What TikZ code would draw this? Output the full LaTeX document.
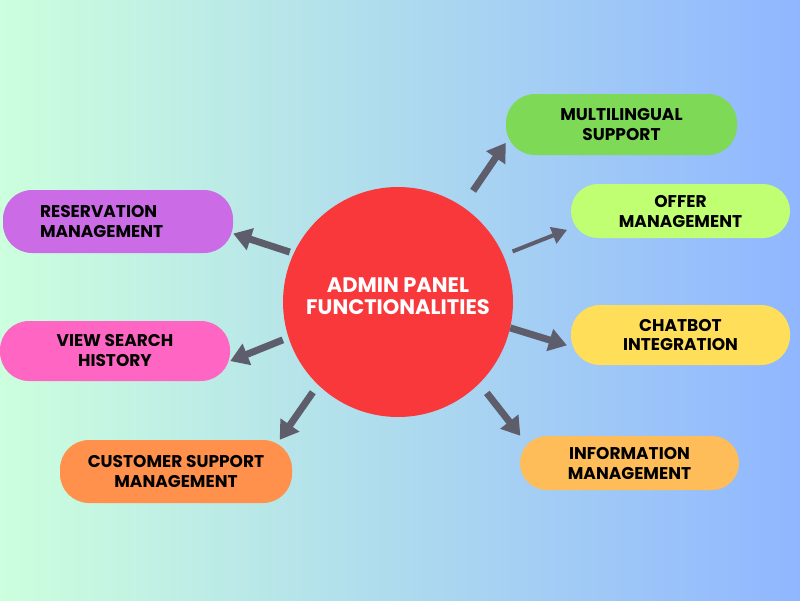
\documentclass[tikz,border=0pt]{standalone}
\usepackage{fontspec}
\setmainfont{Poppins}
\usetikzlibrary{arrows.meta}

\definecolor{bgleft}{HTML}{CCFFDD}
\definecolor{bgright}{HTML}{90B6FF}
\definecolor{hubred}{HTML}{F8383A}
\definecolor{arrowgray}{HTML}{5E5D6C}
\definecolor{resvpurple}{HTML}{CB6CE6}
\definecolor{searchpink}{HTML}{FF66C4}
\definecolor{custorange}{HTML}{FF914D}
\definecolor{multigreen}{HTML}{7ED957}
\definecolor{offerlime}{HTML}{C1FF72}
\definecolor{chatyellow}{HTML}{FFDE59}
\definecolor{infoorange}{HTML}{FFBD59}

\begin{document}
\begin{tikzpicture}[x=1pt, y=-1pt,
  main node/.style={circle, fill=hubred, minimum size=230pt, inner sep=0pt, text=white, align=center, text depth=12pt, font=\fontsize{21}{22}\selectfont\bfseries},
  side node/.style={rectangle, rounded corners=29pt, inner sep=4pt, text=black, align=center, font=\fontsize{17}{20}\selectfont\bfseries},
  link/.style={-{Triangle[length=18pt,width=22pt]}, line width=7pt, draw=arrowgray},
  thin link/.style={-{Triangle[length=15pt,width=17pt]}, line width=4pt, draw=arrowgray}]
  % background
  \shade[left color=bgleft, right color=bgright] (0,0) rectangle (800,600);
  \useasboundingbox (0,0) rectangle (800,600);

  % hub
  \node[main node] (hub) at (398,302) {ADMIN PANEL\\FUNCTIONALITIES};

  % left side
  \node[side node, fill=resvpurple, minimum width=230pt, minimum height=63pt, text width=156pt, align=left] (res) at (118,221.5) {RESERVATION\\MANAGEMENT};
  \node[side node, fill=searchpink, minimum width=230pt, minimum height=60pt] (search) at (115,351) {VIEW SEARCH\\HISTORY};
  \node[side node, fill=custorange, minimum width=232pt, minimum height=63pt] (cust) at (176,471.5) {CUSTOMER SUPPORT\\MANAGEMENT};

  % right side
  \node[side node, fill=multigreen, minimum width=231pt, minimum height=61pt] (multi) at (621.5,124.5) {MULTILINGUAL\\SUPPORT};
  \node[side node, fill=offerlime, minimum width=219pt, minimum height=54pt, rounded corners=27pt] (offer) at (680.5,211) {OFFER\\MANAGEMENT};
  \node[side node, fill=chatyellow, minimum width=219pt, minimum height=60pt] (chat) at (680.5,335) {CHATBOT\\INTEGRATION};
  \node[side node, fill=infoorange, minimum width=219pt, minimum height=54pt, rounded corners=27pt] (info) at (629.5,463) {INFORMATION\\MANAGEMENT};

\path (hub.155.8) edge[link, shorten <=4pt] (res.-6.2)
(hub.198.3) edge[link, shorten <=6pt] (search.-5.5)
(hub.226.3) edge[link, shorten <=9pt] (cust.17.5)
(hub.56.5) edge[link, shorten <=19pt] (multi.189.2)
(hub.24.1) edge[thin link, shorten <=10pt, shorten >=4pt] (offer.189.5)
(hub.-13.1) edge[link, shorten >=4pt] (chat.186)
(hub.-45) edge[link, shorten <=12pt] (info.166.9);
\end{tikzpicture}
\end{document}
